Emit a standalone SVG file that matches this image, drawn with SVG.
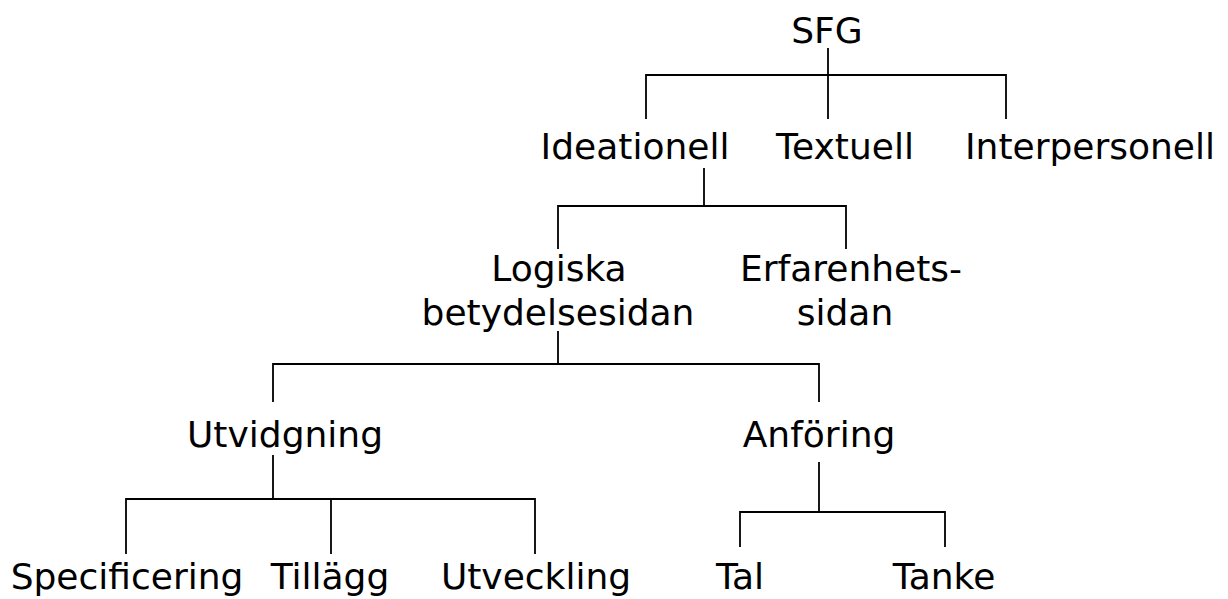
<svg xmlns="http://www.w3.org/2000/svg" width="1228" height="599" viewBox="0 0 1228 599">
<style>
text{font-family:"DejaVu Sans",Verdana,sans-serif;font-size:36px;fill:#000;text-anchor:middle}
.c path{fill:none;stroke:#000;stroke-width:1.8}
</style>
<rect width="1228" height="599" fill="#fff"/>
<g class="c" id="connectors">
<path d="M828 48V119M646 119V75H1006V119"/>
<path d="M704 168V206M558 249V206H846V249"/>
<path d="M558 331V364M273 402V364H819V402"/>
<path d="M273 455V499M126 554V499H535V554M331 499V554"/>
<path d="M819 462V512M740 547V512H945V547"/>
</g>
<g id="n-sfg"><text x="827" y="43">SFG</text></g>
<g id="n-ideationell"><text x="635" y="159">Ideationell</text></g>
<g id="n-textuell"><text x="845" y="159">Textuell</text></g>
<g id="n-interpersonell"><text x="1090" y="159">Interpersonell</text></g>
<g id="n-logiska"><text x="559" y="281">Logiska</text><text x="558" y="325">betydelsesidan</text></g>
<g id="n-erfarenhets"><text x="851" y="281">Erfarenhets-</text><text x="845" y="325">sidan</text></g>
<g id="n-utvidgning"><text x="285" y="447">Utvidgning</text></g>
<g id="n-anforing"><text x="819" y="447">Anföring</text></g>
<g id="n-specificering"><text x="127" y="589">Specificering</text></g>
<g id="n-tillagg"><text x="330" y="589">Tillägg</text></g>
<g id="n-utveckling"><text x="536" y="589">Utveckling</text></g>
<g id="n-tal"><text x="740" y="589">Tal</text></g>
<g id="n-tanke"><text x="944" y="589">Tanke</text></g>
</svg>
